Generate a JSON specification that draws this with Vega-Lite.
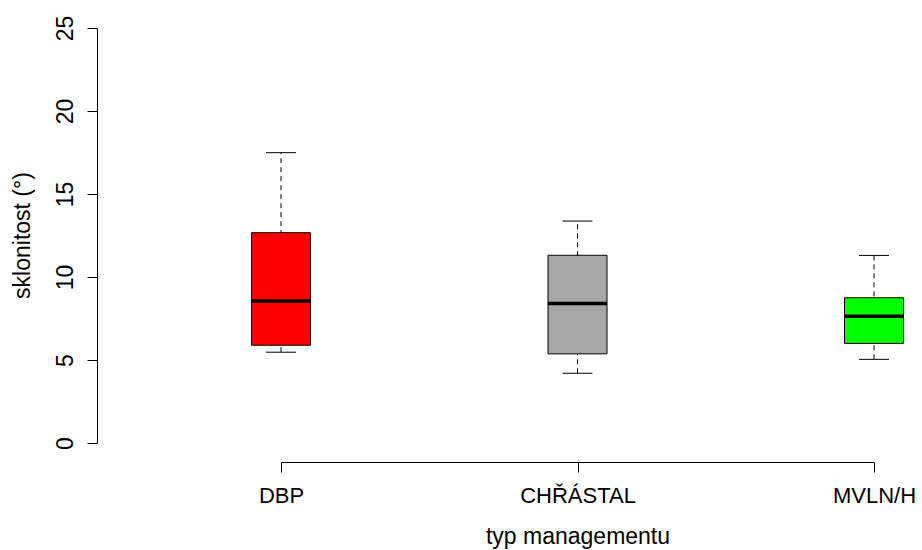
{
  "$schema": "https://vega.github.io/schema/vega-lite/v6.json",
  "autosize": {"type": "none"},
  "padding": {"left": 281, "top": 28, "right": 48, "bottom": 107},
  "width": 593,
  "height": 415,
  "background": "white",
  "config": {
    "view": {"stroke": null},
    "font": "Liberation Sans",
    "axis": {
      "grid": false,
      "domainColor": "black",
      "tickColor": "black",
      "labelColor": "black",
      "titleColor": "black",
      "labelFont": "Liberation Sans",
      "titleFont": "Liberation Sans",
      "titleFontWeight": "normal",
      "labelFontSize": 22,
      "titleFontSize": 23,
      "tickSize": 10,
      "domainWidth": 1,
      "tickWidth": 1
    }
  },
  "data": {
    "values": [
      {"typ": "DBP", "min": 5.47, "q1": 5.89, "median": 8.55, "q3": 12.67, "max": 17.49},
      {"typ": "CHŘÁSTAL", "min": 4.2, "q1": 5.37, "median": 8.41, "q3": 11.31, "max": 13.37},
      {"typ": "MVLN/H", "min": 5.04, "q1": 6.0, "median": 7.64, "q3": 8.75, "max": 11.3}
    ]
  },
  "encoding": {
    "x": {
      "field": "typ",
      "type": "nominal",
      "sort": ["DBP", "CHŘÁSTAL", "MVLN/H"],
      "scale": {"type": "point", "padding": 0},
      "axis": {
        "title": "typ managementu",
        "labelAngle": 0,
        "offset": 19,
        "labelBaseline": "alphabetic",
        "labelPadding": 30,
        "titleY": 81.5,
        "titleBaseline": "alphabetic",
        "titleAlign": "center"
      }
    }
  },
  "layer": [
    {
      "mark": {"type": "rule", "strokeDash": [5, 4], "color": "black", "strokeWidth": 1, "opacity": 1},
      "encoding": {
        "y": {
          "field": "min",
          "type": "quantitative",
          "title": "sklonitost (°)",
          "scale": {"domain": [0, 25], "nice": false, "zero": false},
          "axis": {
            "values": [0, 5, 10, 15, 20, 25],
            "offset": 184,
            "labelAngle": -90,
            "labelAlign": "center",
            "labelBaseline": "alphabetic",
            "labelPadding": 15,
            "labelFontSize": 23,
            "titleAngle": -90,
            "titleX": -68,
            "titleY": 207,
            "titleAlign": "center",
            "titleBaseline": "alphabetic"
          }
        },
        "y2": {"field": "max"}
      }
    },
    {
      "mark": {"type": "tick", "orient": "horizontal", "size": 30, "thickness": 1, "color": "black", "opacity": 1},
      "encoding": {"y": {"field": "min", "type": "quantitative", "title": "sklonitost (°)"}}
    },
    {
      "mark": {"type": "tick", "orient": "horizontal", "size": 30, "thickness": 1, "color": "black", "opacity": 1},
      "encoding": {"y": {"field": "max", "type": "quantitative", "title": "sklonitost (°)"}}
    },
    {
      "mark": {"type": "bar", "width": 59, "stroke": "black", "strokeWidth": 1, "opacity": 1},
      "encoding": {
        "y": {"field": "q1", "type": "quantitative", "title": "sklonitost (°)"},
        "y2": {"field": "q3"},
        "fill": {
          "field": "typ",
          "type": "nominal",
          "scale": {"domain": ["DBP", "CHŘÁSTAL", "MVLN/H"], "range": ["#FF0000", "#A6A6A6", "#00FF00"]},
          "legend": null
        }
      }
    },
    {
      "mark": {"type": "tick", "orient": "horizontal", "size": 59, "thickness": 3.5, "color": "black", "opacity": 1},
      "encoding": {"y": {"field": "median", "type": "quantitative", "title": "sklonitost (°)"}}
    }
  ]
}
